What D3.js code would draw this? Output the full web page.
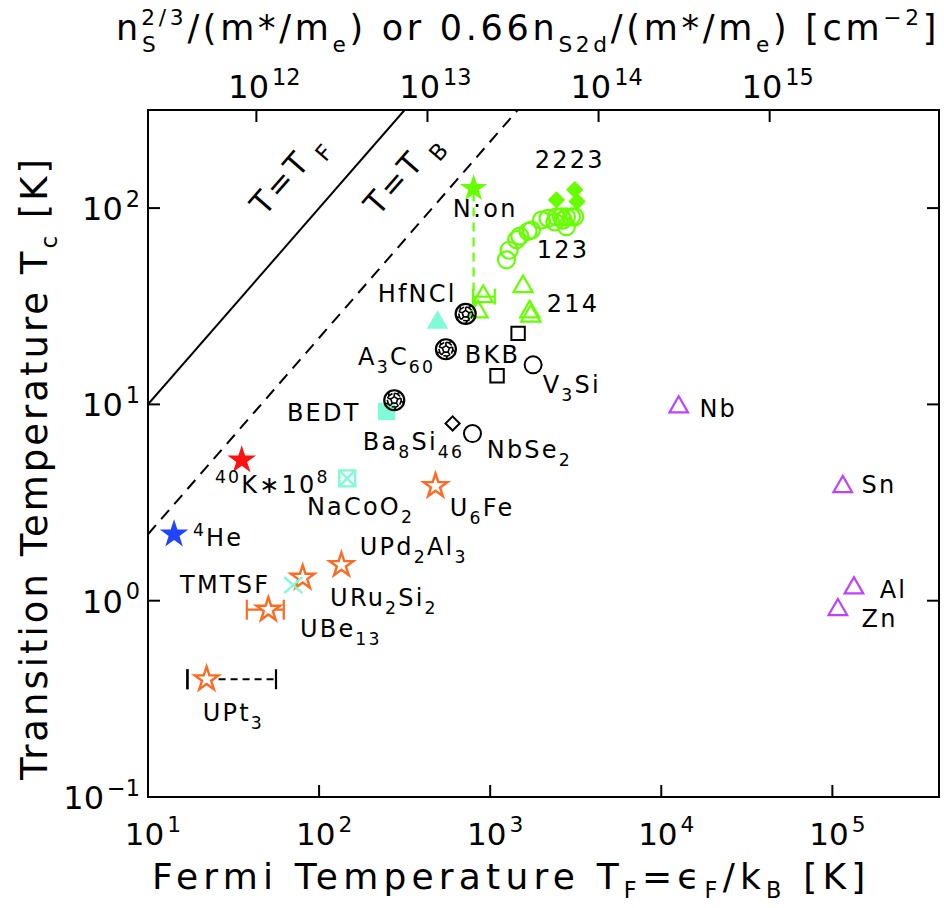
<!DOCTYPE html>
<html>
<head>
<meta charset="utf-8">
<script src="https://cdn.jsdelivr.net/npm/d3@7"></script>
<style>
  body { margin: 0; background: #fff; }
  svg { display: block; font-family: "DejaVu Sans", sans-serif; }
</style>
</head>
<body>
<svg id="chart"></svg>
<script>
// ---- data (T_F in K, Tc in K) ----
var xDomain = [10, 4.2e5];
var yDomain = [0.1, 316];
var xTicks = [1e1, 1e2, 1e3, 1e4, 1e5];
var yTicks = [1e-1, 1e0, 1e1, 1e2];
var topTicks = [1e12, 1e13, 1e14, 1e15];
var densityToTF = 4.3e-11;     // T_F per unit of n^(2/3)/(m*/me)
var becRatio = 0.218;          // T_B = 0.218 T_F

var cuprate123 = [[1245, 54.5], [1290, 61], [1426, 69], [1490, 72], [1665, 76], [1742, 77.3],
                  [1995, 86.9], [2178, 88.7], [2385, 85], [2440, 90.3], [2608, 90.3], [2667, 86.9],
                  [2790, 90.3], [2790, 80.4], [2985, 90.3], [3120, 90.3]];
var cuprate2223 = [[2440, 110], [3120, 124], [3220, 108]];
var cuprate214 = [[910, 35.4], [849, 29.6], [1556, 39.8], [1702, 29.6], [1725, 28.2]];
var cuprate214Err = [[794, 1064, 35.4]];
var nOnStar = [[800, 126]];
var nOnLink = [[800, 120, 29.6]];
var fullerenes = [[719, 28.9], [551, 19.1], [275, 10.5]];
var hfncl = [[492, 26.1]];
var bedt = [[248, 9.2]];
var bkb = [[1456, 23], [1097, 14]];
var openCircles = [[1782, 15.9], [788, 7.1]];          // V3Si, NbSe2
var ba8si46 = [[603, 8.0]];
var nacoo2 = [[146, 4.2]];
var k40 = [[35.3, 5.2]];
var he4 = [[14.2, 2.18]];
var heavyFermions = [[479, 3.84], [135, 1.52], [80.2, 1.31], [50.5, 0.90], [22, 0.398]];
var ube13Err = [[37.8, 62.2, 0.90]];
var upt3Err = [[17, 56, 0.398]];
var tmtsf = [[70.6, 1.20]];
var elements = [[12650, 9.7], [115000, 3.81], [133700, 1.16], [107700, 0.90]]; // Nb Sn Al Zn

// labels: anchor (T_F, Tc) and text pieces
var labels = [
  {x: 1824, y: 160, t: [["2223"]]},
  {x: 605, y: 90, t: [["N:on"]]},
  {x: 1871, y: 55.7, t: [["123"]]},
  {x: 2143, y: 29.6, t: [["214"]]},
  {x: 220, y: 33.3, t: [["HfNCl"]]},
  {x: 169, y: 15.9, t: [["A"], ["3", "sub"], ["C"], ["60", "sub"]]},
  {x: 711, y: 16.3, t: [["BKB"]]},
  {x: 2027, y: 11.4, t: [["V"], ["3", "sub"], ["Si"]]},
  {x: 64.9, y: 8.22, t: [["BEDT"]]},
  {x: 180, y: 5.86, t: [["Ba"], ["8", "sub"], ["Si"], ["46", "sub"]]},
  {x: 955, y: 5.33, t: [["NbSe"], ["2", "sub"]]},
  {x: 24.6, y: 3.54, t: [["40", "sup"], ["K\u221710"], ["8", "sup"]]},
  {x: 84.9, y: 2.74, t: [["NaCoO"], ["2", "sub"]]},
  {x: 581, y: 2.70, t: [["U"], ["6", "sub"], ["Fe"]]},
  {x: 18.3, y: 1.90, t: [["4", "sup"], ["He"]]},
  {x: 173, y: 1.71, t: [["UPd"], ["2", "sub"], ["Al"], ["3", "sub"]]},
  {x: 15.4, y: 1.09, t: [["TMTSF"]]},
  {x: 116, y: 0.94, t: [["URu"], ["2", "sub"], ["Si"], ["2", "sub"]]},
  {x: 77.3, y: 0.653, t: [["UBe"], ["13", "sub"]]},
  {x: 20.9, y: 0.244, t: [["UPt"], ["3", "sub"]]},
  {x: 16700, y: 8.63, t: [["Nb"]]},
  {x: 148000, y: 3.54, t: [["Sn"]]},
  {x: 189000, y: 1.03, t: [["Al"]]},
  {x: 148000, y: 0.734, t: [["Zn"]]}
];

// ---- layout ----
var W = 944, H = 908;
var margin = {left: 148, right: 5, top: 110, bottom: 111};
var green = "#66ff00", cyan = "#7ffbd8", orange = "#ff6a22", purple = "#c040ff";

var svg = d3.select("#chart").attr("width", W).attr("height", H);

var x = d3.scaleLog().domain(xDomain).range([margin.left, W - margin.right]);
var y = d3.scaleLog().domain(yDomain).range([H - margin.bottom, margin.top]);
var xTop = d3.scaleLog()
  .domain(xDomain.map(function(d) { return d / densityToTF; }))
  .range(x.range());

var x0 = x.range()[0], x1 = x.range()[1], y0 = y.range()[0], y1 = y.range()[1];

function richText(sel, parts, size, subScale, subShift) {
  var shift = 0;
  subScale = subScale || 0.72;
  subShift = subShift || 0.33;
  parts.forEach(function(p) {
    var mode = p[1] || "n";
    var target = mode === "sub" ? subShift * size : mode === "sup" ? -0.42 * size : 0;
    var ts = sel.append("tspan")
      .attr("dy", target - shift)
      .attr("font-size", mode === "n" ? size : size * subScale)
      .text(p[0]);
    if (p[2]) ts.attr("dx", p[2]);
    shift = target;
  });
}

var plot = svg.append("g");
plot.append("clipPath").attr("id", "clip")
  .append("rect").attr("x", x0).attr("y", y1).attr("width", x1 - x0).attr("height", y0 - y1);

var clipped = plot.append("g").attr("clip-path", "url(#clip)");

// T = T_F and T = T_B lines
clipped.append("line")
  .attr("x1", x(xDomain[0])).attr("y1", y(xDomain[0]))
  .attr("x2", x(yDomain[1])).attr("y2", y(yDomain[1]))
  .attr("stroke", "#000").attr("stroke-width", 2);
clipped.append("line")
  .attr("x1", x(xDomain[0])).attr("y1", y(xDomain[0] * becRatio))
  .attr("x2", x(yDomain[1] / becRatio)).attr("y2", y(yDomain[1]))
  .attr("stroke", "#000").attr("stroke-width", 2).attr("stroke-dasharray", "12,8");

var slopeAngle = Math.atan2(y(10) - y(100), x(100) - x(10)) * 180 / Math.PI;
function diagLabel(px, py, sub) {
  var t = plot.append("text")
    .attr("transform", "translate(" + x(px) + "," + y(py) + ") rotate(" + (-slopeAngle) + ")")
    .attr("font-size", 31).attr("letter-spacing", 3);
  richText(t, [["T=T"], [sub, "sub", 8]], 31, 0.72);
}
diagLabel(48, 90, "F");
diagLabel(222, 90, "B");

// N:on dashed link
clipped.selectAll(".nonlink").data(nOnLink).enter().append("line")
  .attr("x1", function(d) { return x(d[0]); }).attr("x2", function(d) { return x(d[0]); })
  .attr("y1", function(d) { return y(d[1]); }).attr("y2", function(d) { return y(d[2]); })
  .attr("stroke", green).attr("stroke-width", 2.2).attr("stroke-dasharray", "9,6");

// error bars
function errorBars(data, color, dashed, cap) {
  data.forEach(function(d) {
    var g = clipped.append("g").attr("stroke", color).attr("stroke-width", 2.2);
    g.append("line").attr("x1", x(d[0])).attr("x2", x(d[1])).attr("y1", y(d[2])).attr("y2", y(d[2]))
      .attr("stroke-dasharray", dashed ? "7,5" : null);
    [d[0], d[1]].forEach(function(v) {
      g.append("line").attr("x1", x(v)).attr("x2", x(v))
        .attr("y1", y(d[2]) - cap).attr("y2", y(d[2]) + cap);
    });
  });
}
errorBars(cuprate214Err, green, false, 8);
errorBars(ube13Err, orange, false, 10);
errorBars([[upt3Err[0][0], upt3Err[0][0], upt3Err[0][2]]], "#000", false, 10);
errorBars([[heavyFermions[4][0], upt3Err[0][1], upt3Err[0][2]]], "#000", true, 0);
clipped.append("line")
  .attr("x1", x(upt3Err[0][1])).attr("x2", x(upt3Err[0][1]))
  .attr("y1", y(upt3Err[0][2]) - 10).attr("y2", y(upt3Err[0][2]) + 10)
  .attr("stroke", "#000").attr("stroke-width", 2.2);

// markers
function pts(data, type, size, fill, stroke, sw, rot) {
  clipped.append("g").selectAll("path").data(data).enter().append("path")
    .attr("d", d3.symbol().type(type).size(size))
    .attr("transform", function(d) {
      return "translate(" + x(d[0]) + "," + y(d[1]) + ")" + (rot ? " rotate(" + rot + ")" : "");
    })
    .attr("fill", fill).attr("stroke", stroke).attr("stroke-width", sw || 0);
}
function starSize(r) { return r * r / 0.8908130915292852; }

pts(cuprate123, d3.symbolCircle, Math.PI * 8.5 * 8.5, "none", green, 2.2);
pts(cuprate214, d3.symbolTriangle, 160, "none", green, 2.2);
pts(cuprate2223, d3.symbolSquare, 150, green, green, 0, 45);
pts(nOnStar, d3.symbolStar, starSize(14.5), green, "none");
pts(hfncl, d3.symbolTriangle, 200, cyan, "none");
pts(bedt, d3.symbolSquare, 300, cyan, "none");
pts(bkb, d3.symbolSquare, 180, "none", "#000", 2);
pts(openCircles, d3.symbolCircle, Math.PI * 8.5 * 8.5, "none", "#000", 2);
pts(ba8si46, d3.symbolSquare, 100, "none", "#000", 2, 45);
pts(k40, d3.symbolStar, starSize(15), "#ff1111", "none");
pts(he4, d3.symbolStar, starSize(15), "#2244ff", "none");
pts(heavyFermions, d3.symbolStar, starSize(12.5), "#fff", orange, 2.4);
pts(elements, d3.symbolTriangle, 150, "none", purple, 2.2);

// NaCoO2: square with a cross inside
clipped.selectAll(".naco").data(nacoo2).enter().append("path")
  .attr("transform", function(d) { return "translate(" + x(d[0]) + "," + y(d[1]) + ")"; })
  .attr("d", "M-8,-8H8V8H-8Z M-8,-8L8,8 M-8,8L8,-8")
  .attr("fill", "none").attr("stroke", cyan).attr("stroke-width", 2.4);

// TMTSF: X
clipped.selectAll(".tmtsf").data(tmtsf).enter().append("path")
  .attr("transform", function(d) { return "translate(" + x(d[0]) + "," + y(d[1]) + ")"; })
  .attr("d", "M-9,-8L9,8 M-9,8L9,-8")
  .attr("fill", "none").attr("stroke", cyan).attr("stroke-width", 2.4);

// fullerenes (buckyball)
var ball = clipped.selectAll(".ball").data(fullerenes).enter().append("g")
  .attr("transform", function(d) { return "translate(" + x(d[0]) + "," + y(d[1]) + ")"; })
  .attr("fill", "none").attr("stroke", "#000").attr("stroke-width", 1.6);
ball.append("circle").attr("r", 10).attr("stroke-width", 2.2);
ball.append("path").attr("d", function() {
  var p = d3.path(), i, a;
  for (i = 0; i < 5; i++) {
    a = -Math.PI / 2 + i * 2 * Math.PI / 5;
    if (i === 0) p.moveTo(3.6 * Math.cos(a), 3.6 * Math.sin(a)); else p.lineTo(3.6 * Math.cos(a), 3.6 * Math.sin(a));
  }
  p.closePath();
  for (i = 0; i < 5; i++) {
    a = -Math.PI / 2 + i * 2 * Math.PI / 5;
    p.moveTo(3.6 * Math.cos(a), 3.6 * Math.sin(a));
    p.lineTo(7 * Math.cos(a), 7 * Math.sin(a));
    var b = a + Math.PI / 5;
    p.moveTo(7 * Math.cos(a), 7 * Math.sin(a));
    p.lineTo(7 * Math.cos(b - 0.25), 7 * Math.sin(b - 0.25));
    p.lineTo(9.5 * Math.cos(b), 9.5 * Math.sin(b));
    p.moveTo(7 * Math.cos(b - 0.25), 7 * Math.sin(b - 0.25));
    p.lineTo(7 * Math.cos(b + 0.37), 7 * Math.sin(b + 0.37));
  }
  return p.toString();
});

// data labels
labels.forEach(function(l) {
  var t = plot.append("text").attr("x", x(l.x)).attr("y", y(l.y))
    .attr("font-size", 24).attr("letter-spacing", 2.2);
  richText(t, l.t, 24);
});

// frame and ticks
plot.append("rect").attr("x", x0).attr("y", y1).attr("width", x1 - x0).attr("height", y0 - y1)
  .attr("fill", "none").attr("stroke", "#000").attr("stroke-width", 2);

var tickLen = 12;
var ticks = plot.append("g").attr("stroke", "#000").attr("stroke-width", 2);
xTicks.forEach(function(v) {
  ticks.append("line").attr("x1", x(v)).attr("x2", x(v)).attr("y1", y0).attr("y2", y0 - tickLen);
});
topTicks.forEach(function(v) {
  ticks.append("line").attr("x1", xTop(v)).attr("x2", xTop(v)).attr("y1", y1).attr("y2", y1 + tickLen);
});
yTicks.forEach(function(v) {
  ticks.append("line").attr("x1", x0).attr("x2", x0 + tickLen).attr("y1", y(v)).attr("y2", y(v));
  ticks.append("line").attr("x1", x1).attr("x2", x1 - tickLen).attr("y1", y(v)).attr("y2", y(v));
});

function expParts(v) {
  var e = Math.round(Math.log10(v));
  return [["10"], [String(e).replace("-", "\u2212"), "sup", 3]];
}
xTicks.forEach(function(v) {
  var t = svg.append("text").attr("x", x(v) + 5).attr("y", y0 + 48).attr("text-anchor", "middle").attr("font-size", 31);
  richText(t, expParts(v), 31, 0.7);
});
topTicks.forEach(function(v) {
  var t = svg.append("text").attr("x", xTop(v) + 8).attr("y", y1 - 12).attr("text-anchor", "middle").attr("font-size", 32);
  richText(t, expParts(v), 32, 0.7);
});
yTicks.forEach(function(v) {
  var t = svg.append("text").attr("x", x0 - 8).attr("y", y(v) + 12).attr("text-anchor", "end").attr("font-size", 32);
  richText(t, expParts(v), 32, 0.7);
});

// axis titles
var bt = svg.append("text").attr("x", 152).attr("y", 889)
  .attr("font-size", 36).attr("letter-spacing", 5.2);
richText(bt, [["Fermi Temperature T"], ["F", "sub"], ["=\u03f5"], ["F", "sub"], ["/k"], ["B", "sub"], [" [K]"]], 36, 0.62, 0.25);

var lt = svg.append("text").attr("transform", "translate(47,780) rotate(-90)")
  .attr("font-size", 37).attr("letter-spacing", 3);
richText(lt, [["Transition Temperature T"], ["c", "sub"], [" [K]"]], 37, 0.62, 0.27);

var tt = svg.append("text").attr("x", 116).attr("y", 40).attr("font-size", 35).attr("letter-spacing", 3.7);
richText(tt, [["n"], ["S", "sub"], ["2/3", "sup", -18], ["/(m*/m"], ["e", "sub"], [") or 0.66n"], ["S2d", "sub"],
              ["/(m*/m"], ["e", "sub"], [") [cm"], ["\u22122", "sup"], ["]"]], 35, 0.62);
</script>
</body>
</html>
